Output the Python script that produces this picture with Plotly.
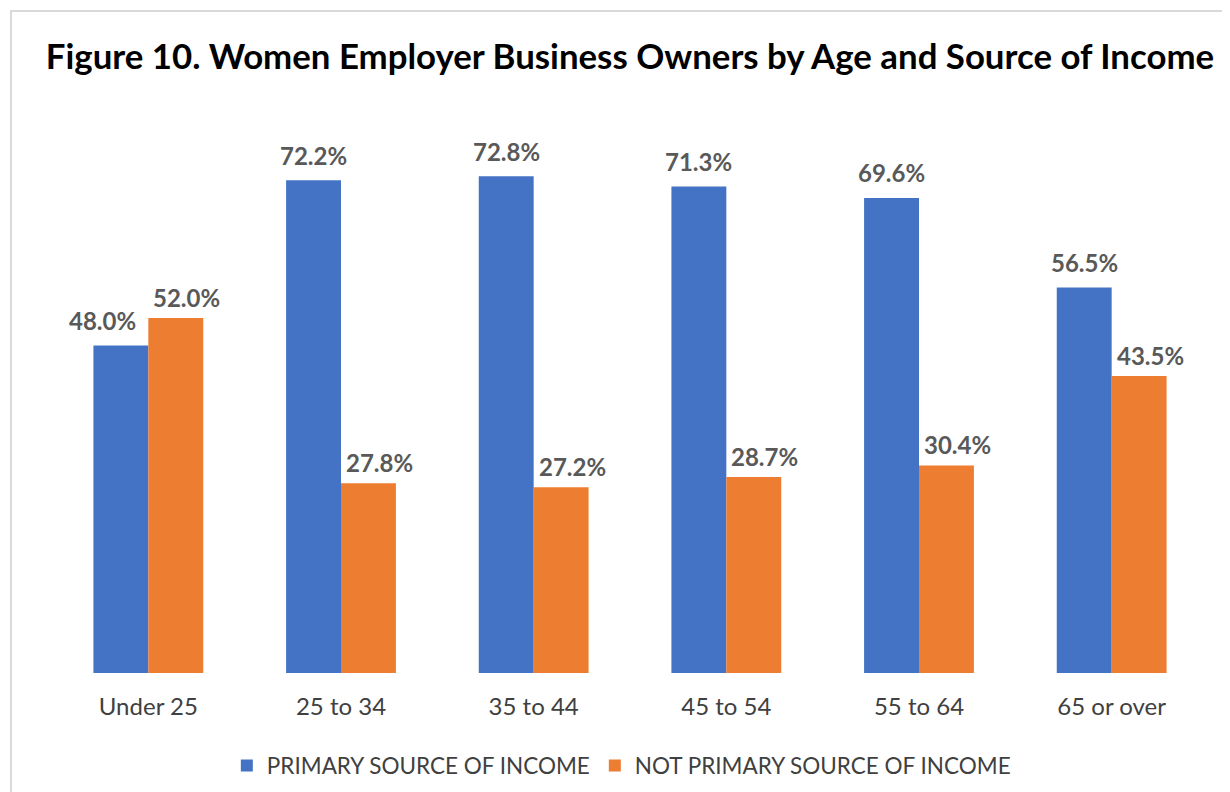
import plotly.graph_objects as go

categories = ["Under 25", "25 to 34", "35 to 44", "45 to 54", "55 to 64", "65 or over"]
primary = [48.0, 72.2, 72.8, 71.3, 69.6, 56.5]
not_primary = [52.0, 27.8, 27.2, 28.7, 30.4, 43.5]
series_names = ["PRIMARY SOURCE OF INCOME", "NOT PRIMARY SOURCE OF INCOME"]
colors = ["#4472C4", "#ED7D31"]

FONT = "Lato"

fig = go.Figure()
for name, vals, col in zip(series_names, [primary, not_primary], colors):
    fig.add_trace(go.Bar(
        x=categories, y=vals, name=name, marker_color=col,
        marker_line_width=0,
    ))

# data labels above each bar (first primary label nudged left to avoid the neighbour bar)
for k, (vals, shift, ys) in enumerate([(primary, -27.5, 25), (not_primary, 38.5, 21)]):
    for i, (c, v) in enumerate(zip(categories, vals)):
        extra = -18 if (k == 0 and i == 0) else 0
        fig.add_annotation(x=c, y=v, text=f"<b>{v:.1f}%</b>", showarrow=False,
                           xshift=shift + extra, yshift=ys, yanchor="middle",
                           font=dict(family=FONT, size=24, color="#595959"))

fig.update_layout(
    width=1222, height=784,
    margin=dict(l=44, r=22, t=119, b=119, autoexpand=False),
    paper_bgcolor="white", plot_bgcolor="white",
    barmode="group", bargap=0.43, bargroupgap=0,
    title=dict(text="<b>Figure 10. Women Employer Business Owners by Age and Source of Income</b>",
               x=0.509, xanchor="center", y=0.9375, yanchor="middle",
               font=dict(family=FONT, size=34.8, color="black")),
    xaxis=dict(showline=False, ticks="", ticklabelstandoff=17, automargin=False,
               tickfont=dict(family=FONT, size=24, color="#404040")),
    yaxis=dict(range=[0, 80], visible=False, showgrid=False, automargin=False),
    legend=dict(orientation="h", x=0.4925, xanchor="center", y=-0.17, yanchor="middle",
                font=dict(family=FONT, size=22.5, color="#404040"), traceorder="normal",
                itemwidth=30),
    showlegend=True,
)
fig.add_shape(type="rect", xref="paper", yref="paper",
              x0=-0.0355, y0=-0.35, x1=1.1, y1=1.2125,
              line=dict(color="#D9D9D9", width=2), layer="below")

fig.write_html("out.html")
